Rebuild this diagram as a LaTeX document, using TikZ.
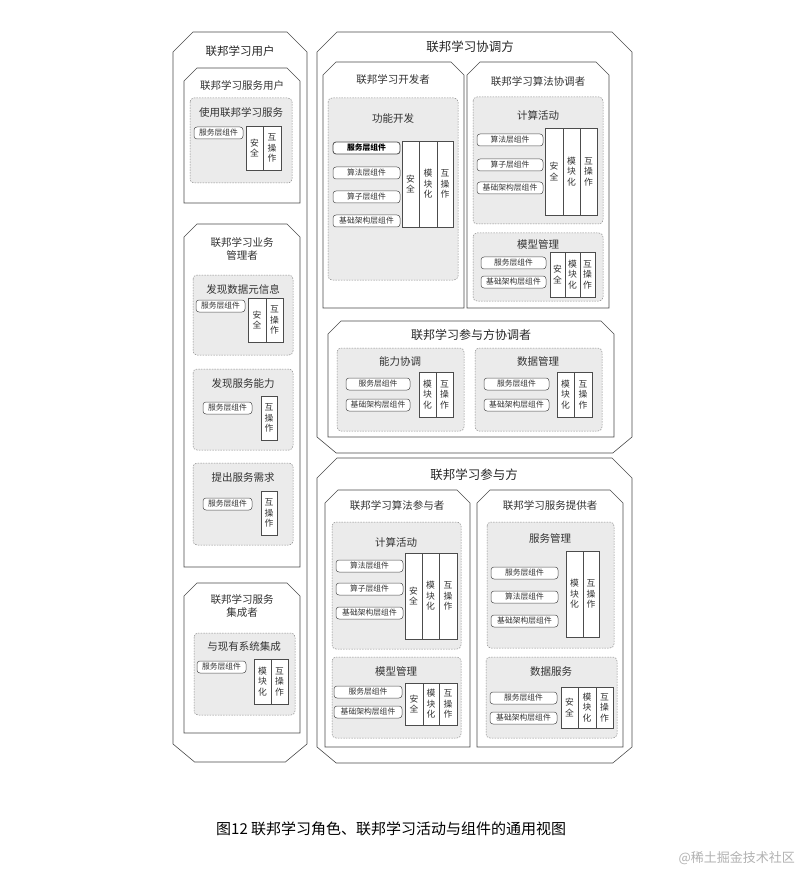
\documentclass[tikz,border=0pt]{standalone}
\usepackage{fontspec}
\setmainfont{Noto Sans CJK SC}
\tikzset{
  lin/.style={draw=black!70, line width=0.6pt},
  dsh/.style={draw=black!45, dashed, dash pattern=on 1.5pt off 1.2pt, fill=black!8, rounded corners=4pt, line width=0.5pt},
  cmpst/.style={draw=black!70, fill=white, rounded corners=3pt, line width=0.5pt},
  colst/.style={draw=black!70, fill=white, line width=0.6pt},
  ttl/.style={font=\fontsize{10.5}{12.5}\selectfont, text=black!80},
}
% top-chamfered box
\newcommand\chtop[5]{\draw[lin,fill=white] (#1,#4)--(#1,#2+#5)--(#1+#5,#2)--(#3-#5,#2)--(#3,#2+#5)--(#3,#4)--cycle;}
% both-chamfered box
\newcommand\chboth[6]{\draw[lin,fill=white] (#1,#4-#6)--(#1,#2+#5)--(#1+#5,#2)--(#3-#5,#2)--(#3,#2+#5)--(#3,#4-#6)--(#3-#6*1.2,#4)--(#1+#6*1.2,#4)--cycle;}
\newcommand\dbx[4]{\draw[dsh] (#1,#2) rectangle (#3,#4);}
\newcommand\cmp[4]{\draw[cmpst] (#1,#3-6) rectangle (#2,#3+6); \node[font=\fontsize{7.8}{8}\selectfont, text=black!80] at ({(#1+#2)/2},#3) {#4};}
\newcommand\vcol[5]{\draw[colst] (#1,#2) rectangle (#3,#4); \node[font=\fontsize{8.8}{10.5}\selectfont, align=center, text=black!80, inner sep=0pt] at ({(#1+#3)/2},{(#2+#4)/2}) {#5};}
\newcommand\ttl[3]{\node[ttl, align=center] at (#1,#2) {#3};}
\def\AQ{安\\全}
\def\MK{模\\块\\化}
\def\HC{互\\操\\作}
\begin{document}
\begin{tikzpicture}[x=1pt,y=-1pt]
\useasboundingbox (0,0) rectangle (801,874);
\fill[white] (0,0) rectangle (801,874);

% ===== left column =====
\chboth{173}{32}{307}{762}{20}{18}
\node[font=\fontsize{11.5}{13}\selectfont, text=black!85] (lu) at (240,51) {联邦学习用户};

\chtop{184}{68}{300}{203}{13}
\ttl{242}{86}{联邦学习服务用户}
\dbx{190}{98}{292}{183}
\ttl{241}{113}{使用联邦学习服务}
\cmp{194}{243}{133}{服务层组件}
\vcol{246}{126}{263}{170}{\AQ}
\vcol{263}{126}{281}{170}{\HC}

\chtop{184}{224}{300}{567}{13}
\ttl{242}{249}{联邦学习业务\\管理者}
\dbx{193}{275}{293}{355}
\ttl{243}{289}{发现数据元信息}
\cmp{196}{245}{306}{服务层组件}
\vcol{248}{298}{266}{342}{\AQ}
\vcol{266}{298}{283}{342}{\HC}
\dbx{193}{369}{293}{450}
\ttl{243}{384}{发现服务能力}
\cmp{203}{252}{408}{服务层组件}
\vcol{261}{396}{277}{440}{\HC}
\dbx{193}{463}{293}{545}
\ttl{243}{478}{提出服务需求}
\cmp{203}{252}{504}{服务层组件}
\vcol{261}{491}{277}{535}{\HC}

\chtop{184}{583}{300}{733}{13}
\ttl{242}{606}{联邦学习服务\\集成者}
\dbx{194}{633}{295}{715}
\ttl{244}{647}{与现有系统集成}
\cmp{197}{246}{667}{服务层组件}
\vcol{254}{659}{271}{704}{\MK}
\vcol{271}{659}{288}{704}{\HC}

% ===== coordinator =====
\chboth{317}{32}{632}{453}{20}{16}
\node[font=\fontsize{12.5}{14}\selectfont, text=black!85] (co) at (470,47) {联邦学习协调方};

\chtop{323}{62}{464}{308}{13}
\ttl{393}{80}{联邦学习开发者}
\dbx{328}{98}{458}{280}
\ttl{393}{119}{功能开发}
\draw[cmpst, line width=0.8pt] (333,142) rectangle (400,154);
\node[font=\fontsize{7.8}{8}\selectfont\bfseries, text=black] at (366.5,148) {服务层组件};
\cmp{333}{400}{173}{算法层组件}
\cmp{333}{400}{197}{算子层组件}
\cmp{333}{400}{221}{基础架构层组件}
\vcol{402}{141}{419}{227}{\AQ}
\vcol{419}{141}{437}{227}{\MK}
\vcol{437}{141}{453}{227}{\HC}

\chtop{467}{62}{609}{308}{13}
\ttl{538}{82}{联邦学习算法协调者}
\dbx{473}{97}{603}{224}
\ttl{538}{115}{计算活动}
\cmp{477}{543}{140}{算法层组件}
\cmp{477}{543}{165}{算子层组件}
\cmp{477}{543}{188}{基础架构层组件}
\vcol{545}{128}{563}{215}{\AQ}
\vcol{563}{128}{580}{215}{\MK}
\vcol{580}{128}{597}{215}{\HC}
\dbx{473}{233}{603}{301}
\ttl{538}{244}{模型管理}
\cmp{481}{546}{263}{服务层组件}
\cmp{481}{546}{282}{基础架构层组件}
\vcol{550}{252}{565}{297}{\AQ}
\vcol{565}{252}{580}{297}{\MK}
\vcol{580}{252}{595}{297}{\HC}

\chtop{328}{321}{614}{437}{13}
\node[font=\fontsize{12}{13}\selectfont, text=black!85] at (471,335) {联邦学习参与方协调者};
\dbx{337}{348}{464}{431}
\ttl{400}{362}{能力协调}
\cmp{346}{410}{384}{服务层组件}
\cmp{346}{410}{405}{基础架构层组件}
\vcol{419}{372}{436}{417}{\MK}
\vcol{436}{372}{453}{417}{\HC}
\dbx{475}{348}{602}{431}
\ttl{538}{362}{数据管理}
\cmp{484}{549}{384}{服务层组件}
\cmp{484}{549}{405}{基础架构层组件}
\vcol{557}{372}{574}{417}{\MK}
\vcol{574}{372}{592}{417}{\HC}

% ===== participant =====
\chboth{317}{458}{632}{763}{20}{16}
\node[font=\fontsize{12.5}{14}\selectfont, text=black!85] (pa) at (474,475) {联邦学习参与方};

\chtop{325}{490}{470}{747}{13}
\ttl{397}{506}{联邦学习算法参与者}
\dbx{332}{522}{461}{649}
\ttl{396}{542}{计算活动}
\cmp{336}{403}{566}{算法层组件}
\cmp{336}{403}{589}{算子层组件}
\cmp{336}{403}{613}{基础架构层组件}
\vcol{405}{553}{422}{639}{\AQ}
\vcol{422}{553}{439}{639}{\MK}
\vcol{439}{553}{457}{639}{\HC}
\dbx{332}{657}{461}{738}
\ttl{396}{671}{模型管理}
\cmp{334}{402}{692}{服务层组件}
\cmp{334}{402}{712}{基础架构层组件}
\vcol{405}{683}{423}{725}{\AQ}
\vcol{423}{683}{439}{725}{\MK}
\vcol{439}{683}{457}{725}{\HC}

\chtop{477}{490}{623}{747}{13}
\ttl{550}{506}{联邦学习服务提供者}
\dbx{487}{522}{614}{648}
\ttl{550}{538}{服务管理}
\cmp{491}{558}{573}{服务层组件}
\cmp{491}{558}{597}{算法层组件}
\cmp{491}{558}{621}{基础架构层组件}
\vcol{566}{551}{583}{637}{\MK}
\vcol{583}{551}{599}{637}{\HC}
\dbx{486}{657}{617}{738}
\ttl{551}{672}{数据服务}
\cmp{490}{557}{698}{服务层组件}
\cmp{490}{557}{718}{基础架构层组件}
\vcol{561}{687}{578}{728}{\AQ}
\vcol{578}{687}{596}{728}{\MK}
\vcol{596}{687}{613}{728}{\HC}

% caption
\node[font=\fontsize{15}{17}\selectfont, anchor=west, inner sep=0pt] (cap) at (216,829) {图12\ 联邦学习角色、联邦学习活动与组件的通用视图};
\node[font=\fontsize{13}{15}\selectfont, text=black!30, anchor=east, inner sep=0pt] (wm) at (795,858) {@稀土掘金技术社区};
\end{tikzpicture}
\end{document}
